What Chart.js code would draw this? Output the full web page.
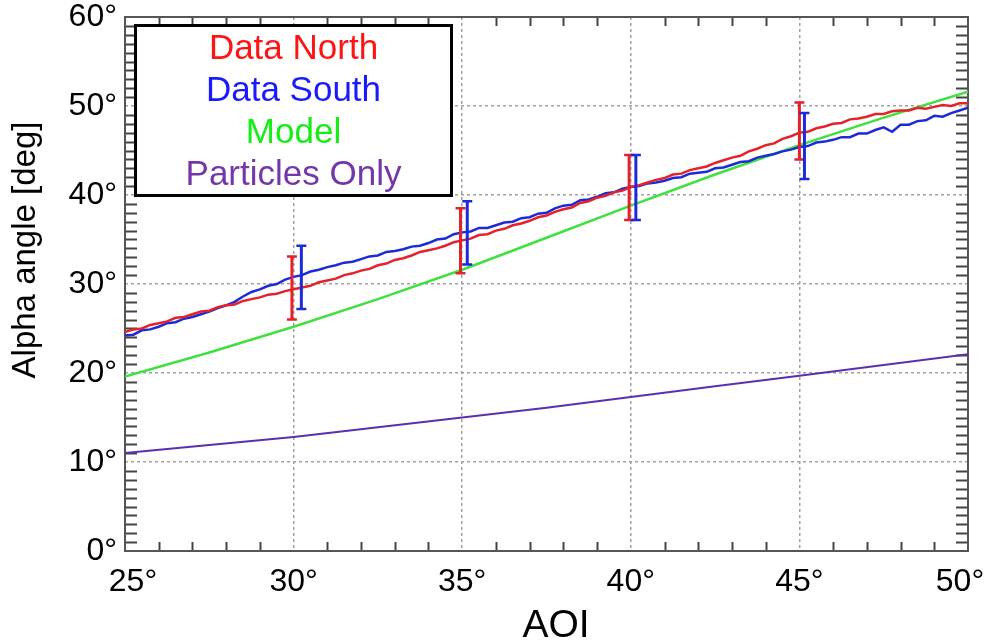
<!DOCTYPE html>
<html>
<head>
<meta charset="utf-8">
<title>Alpha angle vs AOI</title>
<script src="https://cdn.jsdelivr.net/npm/chart.js@4.4.1/dist/chart.umd.min.js"></script>
<style>
  html, body { margin: 0; padding: 0; background: #fff; }
  #wrap { width: 989px; height: 644px; }
</style>
</head>
<body>
<div id="wrap"><canvas id="alphaChart" width="989" height="644"></canvas></div>
<script>
// measured traces, sampled every 0.25 deg of AOI
const aoi = [
  25, 25.25, 25.5, 25.75, 26, 26.25, 26.5, 26.75, 27, 27.25, 27.5, 27.75,
  28, 28.25, 28.5, 28.75, 29, 29.25, 29.5, 29.75, 30, 30.25, 30.5, 30.75,
  31, 31.25, 31.5, 31.75, 32, 32.25, 32.5, 32.75, 33, 33.25, 33.5, 33.75,
  34, 34.25, 34.5, 34.75, 35, 35.25, 35.5, 35.75, 36, 36.25, 36.5, 36.75,
  37, 37.25, 37.5, 37.75, 38, 38.25, 38.5, 38.75, 39, 39.25, 39.5, 39.75,
  40, 40.25, 40.5, 40.75, 41, 41.25, 41.5, 41.75, 42, 42.25, 42.5, 42.75,
  43, 43.25, 43.5, 43.75, 44, 44.25, 44.5, 44.75, 45, 45.25, 45.5, 45.75,
  46, 46.25, 46.5, 46.75, 47, 47.25, 47.5, 47.75, 48, 48.25, 48.5, 48.75,
  49, 49.25, 49.5, 49.75, 50
];
const dataNorth = [
  24.6, 24.9, 25.0, 25.4, 25.6, 25.8, 26.2, 26.3, 26.6, 26.9, 27.0, 27.4,
  27.6, 27.7, 28.1, 28.3, 28.5, 28.8, 28.9, 29.2, 29.4, 29.6, 29.8, 30.2,
  30.4, 30.6, 31.0, 31.2, 31.5, 31.7, 32.1, 32.3, 32.7, 32.9, 33.2, 33.6,
  33.8, 34.0, 34.3, 34.7, 34.9, 35.1, 35.5, 35.6, 36.0, 36.2, 36.6, 36.8,
  37.1, 37.5, 37.7, 38.1, 38.4, 38.6, 39.1, 39.3, 39.7, 39.9, 40.3, 40.5,
  40.9, 41.1, 41.4, 41.7, 41.9, 42.3, 42.4, 42.8, 43.0, 43.2, 43.6, 43.9,
  44.2, 44.4, 44.9, 45.2, 45.6, 45.8, 46.3, 46.6, 47.0, 47.1, 47.5, 47.7,
  48.0, 48.1, 48.5, 48.6, 48.8, 49.1, 49.1, 49.4, 49.5, 49.5, 49.8, 49.7,
  49.9, 50.1, 50.0, 50.3, 50.3
];
const dataSouth = [
  24.2, 24.3, 24.8, 24.9, 25.2, 25.6, 25.7, 26.1, 26.3, 26.6, 26.9, 27.3,
  27.6, 28.0, 28.6, 29.1, 29.4, 29.8, 30.0, 30.5, 30.8, 31.0, 31.4, 31.6,
  31.9, 32.1, 32.4, 32.5, 32.8, 33.1, 33.2, 33.6, 33.7, 33.9, 34.2, 34.3,
  34.6, 35.0, 35.1, 35.6, 35.8, 35.9, 36.3, 36.3, 36.6, 36.9, 37.0, 37.4,
  37.5, 37.9, 38.0, 38.5, 38.8, 38.9, 39.4, 39.5, 39.8, 40.2, 40.3, 40.7,
  40.9, 41.0, 41.3, 41.4, 41.6, 41.9, 42.0, 42.4, 42.5, 42.6, 43.0, 43.1,
  43.4, 43.7, 43.8, 44.2, 44.4, 44.6, 44.9, 45.1, 45.4, 45.5, 45.9, 46.0,
  46.2, 46.5, 46.5, 46.9, 46.9, 47.3, 47.6, 47.1, 47.9, 47.9, 48.3, 48.4,
  48.9, 48.8, 49.2, 49.5, 49.8
];

// smooth curves, every 2.5 deg
const aoiCoarse = [25, 27.5, 30, 32.5, 35, 37.5, 40, 42.5, 45, 47.5, 50];
const model = [19.6, 22.3, 25.2, 28.3, 31.6, 35.2, 38.8, 42.3, 45.6, 48.7, 51.6];
const particlesOnly = [11.0, 11.9, 12.8, 13.9, 15.0, 16.1, 17.3, 18.5, 19.7, 20.9, 22.1];

// error bars
const errNorthX = [29.95, 34.95, 39.95, 45.0];
const errNorthLow = [26.0, 31.2, 37.2, 44.0];
const errNorthHigh = [33.1, 38.5, 44.5, 50.4];
const errSouthX = [30.23, 35.15, 40.15, 45.15];
const errSouthLow = [27.2, 32.2, 37.2, 41.8];
const errSouthHigh = [34.3, 39.3, 44.5, 49.2];

const seriesNames = ['Data North', 'Data South', 'Model', 'Particles Only'];
const lineColors = ['#e3222b', '#1d2ad8', '#3fe03f', '#5a30b0'];
const legendColors = ['#ff1414', '#1a1aff', '#14ee14', '#7436a8'];
const xTitle = 'AOI';
const yTitle = 'Alpha angle [deg]';

const FONT = '"Liberation Sans", Arial, sans-serif';

function pts(xs, ys) {
  return xs.map((x, i) => ({ x: x, y: ys[i] }));
}

// frame, inward minor ticks, error bars, axis titles and legend box
const decorations = {
  id: 'decorations',
  beforeDatasetsDraw(chart) {
    const { ctx, chartArea: a, scales: { x, y } } = chart;
    ctx.save();
    ctx.strokeStyle = '#444';
    ctx.lineWidth = 2;
    ctx.beginPath();
    for (let v = 26; v < 50; v++) {
      if (v % 5 === 0) continue;
      const px = Math.round(x.getPixelForValue(v)) + 0.5;
      ctx.moveTo(px, a.bottom); ctx.lineTo(px, a.bottom - 9);
      ctx.moveTo(px, a.top); ctx.lineTo(px, a.top + 9);
    }
    for (let v = 1; v < 60; v++) {
      if (v % 10 === 0) continue;
      const py = Math.round(y.getPixelForValue(v)) + 0.5;
      ctx.moveTo(a.left, py); ctx.lineTo(a.left + 12, py);
      ctx.moveTo(a.right, py); ctx.lineTo(a.right - 12, py);
    }
    ctx.stroke();
    ctx.strokeStyle = '#555';
    ctx.lineWidth = 2;
    ctx.strokeRect(a.left, a.top, a.right - a.left, a.bottom - a.top);
    ctx.restore();
  },
  afterDatasetsDraw(chart) {
    const { ctx, scales: { x, y } } = chart;
    const bars = [
      [errNorthX, errNorthLow, errNorthHigh, lineColors[0]],
      [errSouthX, errSouthLow, errSouthHigh, lineColors[1]]
    ];
    ctx.save();
    bars.forEach(([xs, lo, hi, color]) => {
      ctx.strokeStyle = color;
      xs.forEach((xv, i) => {
        const px = x.getPixelForValue(xv);
        const y1 = y.getPixelForValue(lo[i]);
        const y2 = y.getPixelForValue(hi[i]);
        ctx.lineWidth = 3;
        ctx.beginPath();
        ctx.moveTo(px, y1); ctx.lineTo(px, y2);
        ctx.stroke();
        ctx.lineWidth = 2.5;
        ctx.beginPath();
        ctx.moveTo(px - 5, y1); ctx.lineTo(px + 5, y1);
        ctx.moveTo(px - 5, y2); ctx.lineTo(px + 5, y2);
        ctx.stroke();
      });
    });
    ctx.restore();
  },
  afterDraw(chart) {
    const { ctx } = chart;
    ctx.save();
    ctx.fillStyle = '#000';
    ctx.textAlign = 'center';
    ctx.textBaseline = 'middle';
    ctx.font = '39px ' + FONT;
    ctx.fillText(xTitle, 556, 626);
    ctx.translate(26, 250);
    ctx.rotate(-Math.PI / 2);
    ctx.font = '33px ' + FONT;
    ctx.fillText(yTitle, 0, 0);
    ctx.restore();

    // legend box with centred coloured names
    ctx.save();
    ctx.fillStyle = '#fff';
    ctx.fillRect(135, 25, 317, 171);
    ctx.strokeStyle = '#000';
    ctx.lineWidth = 3;
    ctx.strokeRect(135.5, 25.5, 316, 170);
    ctx.font = '35px ' + FONT;
    ctx.textAlign = 'center';
    ctx.textBaseline = 'alphabetic';
    chart.data.datasets.forEach((ds, i) => {
      ctx.fillStyle = legendColors[i];
      ctx.fillText(ds.label, 293.5, 59 + i * 42);
    });
    ctx.restore();
  }
};

const gridColor = (lo, hi) => (c) =>
  (c.tick && c.tick.value > lo && c.tick.value < hi) ? '#a0a0a0' : 'rgba(0,0,0,0)';

// keep the plot area fixed regardless of edge label overhang
const noEdgePadding = (s) => {
  s.paddingLeft = 0; s.paddingRight = 0; s.paddingTop = 0; s.paddingBottom = 0;
};

new Chart(document.getElementById('alphaChart'), {
  type: 'line',
  data: {
    datasets: [
      { label: seriesNames[0], data: pts(aoi, dataNorth), borderColor: lineColors[0], borderWidth: 2.5 },
      { label: seriesNames[1], data: pts(aoi, dataSouth), borderColor: lineColors[1], borderWidth: 2.5 },
      { label: seriesNames[2], data: pts(aoiCoarse, model), borderColor: lineColors[2], borderWidth: 2.5 },
      { label: seriesNames[3], data: pts(aoiCoarse, particlesOnly), borderColor: lineColors[3], borderWidth: 2 }
    ]
  },
  options: {
    responsive: false,
    animation: false,
    devicePixelRatio: 1,
    layout: { padding: { top: 17, right: 21, left: 0, bottom: 0 } },
    elements: {
      point: { radius: 0 },
      line: { tension: 0, fill: false }
    },
    plugins: {
      legend: { display: false },
      tooltip: { enabled: false }
    },
    scales: {
      x: {
        type: 'linear',
        min: 25,
        max: 50,
        afterFit: (s) => { s.height = 93; noEdgePadding(s); },
        ticks: {
          stepSize: 5,
          maxRotation: 0,
          padding: 12,
          color: '#000',
          font: { family: FONT, size: 32 },
          // edge labels nudged inward, as on the original axes
          callback: (v) => v === 50 ? v + '°\u2002' : v === 25 ? '\u2002' + v + '°' : v + '°'
        },
        grid: { color: gridColor(25, 50), lineWidth: 1.5, drawTicks: false },
        border: { display: false, dash: [3, 3] }
      },
      y: {
        min: 0,
        max: 60,
        afterFit: (s) => { s.width = 125; noEdgePadding(s); },
        ticks: {
          stepSize: 10,
          padding: 8,
          color: '#000',
          font: { family: FONT, size: 32 },
          callback: (v) => v + '°'
        },
        grid: { color: gridColor(0, 60), lineWidth: 1.5, drawTicks: false },
        border: { display: false, dash: [3, 3] }
      }
    }
  },
  plugins: [decorations]
});
</script>
</body>
</html>
